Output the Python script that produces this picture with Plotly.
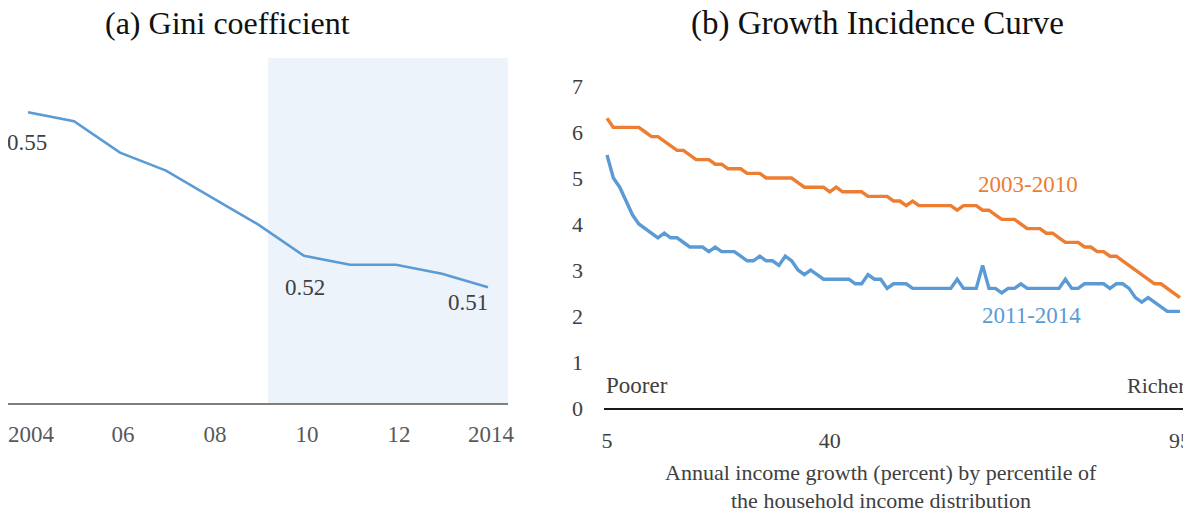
import plotly.graph_objects as go

# ---------------- data ----------------
years = list(range(2004, 2015))
gini = [0.553, 0.551, 0.544, 0.540, 0.534, 0.528, 0.521, 0.519, 0.519, 0.517, 0.514]
gini_labeled_years = [2004, 2010, 2014]
year_ticks = [2004, 2006, 2008, 2010, 2012, 2014]
year_ticktext = ["2004", "06", "08", "10", "12", "2014"]
shade_start_year = 2009.22

percentiles = list(range(5, 96))
gic_2003_2010 = [
    6.3, 6.1, 6.1, 6.1, 6.1, 6.1, 6.0, 5.9, 5.9, 5.8,
    5.7, 5.6, 5.6, 5.5, 5.4, 5.4, 5.4, 5.3, 5.3, 5.2,
    5.2, 5.2, 5.1, 5.1, 5.1, 5.0, 5.0, 5.0, 5.0, 5.0,
    4.9, 4.8, 4.8, 4.8, 4.8, 4.7, 4.8, 4.7, 4.7, 4.7,
    4.7, 4.6, 4.6, 4.6, 4.6, 4.5, 4.5, 4.4, 4.5, 4.4,
    4.4, 4.4, 4.4, 4.4, 4.4, 4.3, 4.4, 4.4, 4.4, 4.3,
    4.3, 4.2, 4.1, 4.1, 4.1, 4.0, 3.9, 3.9, 3.9, 3.8,
    3.8, 3.7, 3.6, 3.6, 3.6, 3.5, 3.5, 3.4, 3.4, 3.3,
    3.3, 3.2, 3.1, 3.0, 2.9, 2.8, 2.7, 2.7, 2.6, 2.5,
    2.4,
]
gic_2011_2014 = [
    5.5, 5.0, 4.8, 4.5, 4.2, 4.0, 3.9, 3.8, 3.7, 3.8,
    3.7, 3.7, 3.6, 3.5, 3.5, 3.5, 3.4, 3.5, 3.4, 3.4,
    3.4, 3.3, 3.2, 3.2, 3.3, 3.2, 3.2, 3.1, 3.3, 3.2,
    3.0, 2.9, 3.0, 2.9, 2.8, 2.8, 2.8, 2.8, 2.8, 2.7,
    2.7, 2.9, 2.8, 2.8, 2.6, 2.7, 2.7, 2.7, 2.6, 2.6,
    2.6, 2.6, 2.6, 2.6, 2.6, 2.8, 2.6, 2.6, 2.6, 3.1,
    2.6, 2.6, 2.5, 2.6, 2.6, 2.7, 2.6, 2.6, 2.6, 2.6,
    2.6, 2.6, 2.8, 2.6, 2.6, 2.7, 2.7, 2.7, 2.7, 2.6,
    2.7, 2.7, 2.6, 2.4, 2.3, 2.4, 2.3, 2.2, 2.1, 2.1,
    2.1,
]
pct_ticks = [5, 40, 95]
gic_yticks = [0, 1, 2, 3, 4, 5, 6, 7]
series_names = ["2003-2010", "2011-2014"]

# ---------------- styles ----------------
OFF = 8                      # page body margin of the browser
W, H = 1191 - OFF, 513 - OFF
FONT = "Liberation Serif"
BLUE = "#5B9BD5"
ORANGE = "#ED7D31"
SHADE = "#EDF3FA"
GRAY_TXT = "#595959"
DARK_TXT = "#404040"

def px_x(p):
    return max(0.0, (p - OFF) / W)

def px_y(p):
    return 1 - (p - OFF) / H

fig = go.Figure()

# ---- panel (a) ----
fig.add_trace(go.Scatter(
    x=years, y=gini, mode="lines",
    line=dict(color=BLUE, width=2.6),
    xaxis="x", yaxis="y", showlegend=False, hoverinfo="skip",
))

# ---- panel (b) ----
fig.add_trace(go.Scatter(
    x=percentiles, y=gic_2003_2010, mode="lines",
    line=dict(color=ORANGE, width=3.4),
    xaxis="x2", yaxis="y2", showlegend=False, name=series_names[0],
))
fig.add_trace(go.Scatter(
    x=percentiles, y=gic_2011_2014, mode="lines",
    line=dict(color=BLUE, width=3.4),
    xaxis="x2", yaxis="y2", showlegend=False, name=series_names[1],
))

# shaded period in panel (a)
fig.add_shape(
    type="rect", xref="x", yref="y domain",
    x0=shade_start_year, x1=2014.43, y0=0, y1=1,
    fillcolor=SHADE, line=dict(width=0), layer="below",
)

annotations = []
# value labels on gini line
label_shift = {2004: (-1, -30), 2010: (1, -32), 2014: (-20, -15)}
for yr in gini_labeled_years:
    v = gini[years.index(yr)]
    dx, dy = label_shift[yr]
    annotations.append(dict(
        x=yr, y=v, xref="x", yref="y", text=f"{v:.2f}", showarrow=False,
        xanchor="center", yanchor="middle",
        xshift=dx, yshift=dy, font=dict(family=FONT, size=23, color=DARK_TXT),
    ))

# series labels
annotations.append(dict(x=71.1, y=4.85, xref="x2", yref="y2", text=series_names[0],
                        xanchor="center", yanchor="middle",
                        showarrow=False, font=dict(family=FONT, size=23, color=ORANGE)))
annotations.append(dict(x=71.7, y=2.02, xref="x2", yref="y2", text=series_names[1],
                        xanchor="center", yanchor="middle",
                        showarrow=False, font=dict(family=FONT, size=23, color=BLUE)))
# Poorer / Richer
annotations.append(dict(x=0, y=0.18, xref="x2 domain", yref="y2", text="Poorer",
                        xanchor="left", yanchor="bottom", showarrow=False,
                        font=dict(family=FONT, size=23, color=DARK_TXT)))
annotations.append(dict(x=1, y=0.18, xref="x2 domain", yref="y2", text="Richer",
                        xanchor="right", yanchor="bottom", showarrow=False,
                        font=dict(family=FONT, size=22, color=DARK_TXT)))
# x title panel (b)
annotations.append(dict(x=px_x(881), y=px_y(472), xref="paper", yref="paper",
                        xanchor="center", yanchor="middle",
                        text="Annual income growth (percent) by percentile of",
                        showarrow=False, font=dict(family=FONT, size=22, color=DARK_TXT)))
annotations.append(dict(x=px_x(881), y=px_y(500), xref="paper", yref="paper",
                        xanchor="center", yanchor="middle",
                        text="the household income distribution",
                        showarrow=False, font=dict(family=FONT, size=22, color=DARK_TXT)))
# panel titles
annotations.append(dict(x=px_x(228), y=px_y(23), xref="paper", yref="paper",
                        xanchor="center", yanchor="middle",
                        text="(a) Gini coefficient", showarrow=False,
                        font=dict(family=FONT, size=32, color="#111111")))
annotations.append(dict(x=px_x(877), y=px_y(23), xref="paper", yref="paper",
                        xanchor="center", yanchor="middle",
                        text="(b) Growth Incidence Curve", showarrow=False,
                        font=dict(family=FONT, size=33, color="#111111")))

# left x-axis: screen px 8 (page edge) .. 508, with 2004 at 28 and 46 px/year
left_x0 = 2004 + (OFF - 28) / 46
left_x1 = 2004 + (508 - 28) / 46

fig.update_layout(
    template="none",
    width=W, height=H,
    margin=dict(l=0, r=0, t=0, b=0, pad=0, autoexpand=False),
    paper_bgcolor="white", plot_bgcolor="white",
    annotations=annotations,
    xaxis=dict(
        domain=[px_x(OFF), px_x(508)], range=[left_x0, left_x1],
        tickvals=year_ticks, ticktext=year_ticktext, automargin=False,
        ticklabeloverflow="allow", ticklabelshift=3,
        showgrid=False, zeroline=False, showline=True, linecolor="#7F7F7F", linewidth=1.6,
        ticks="", ticklabelstandoff=10,
        tickfont=dict(family=FONT, size=23, color=GRAY_TXT),
    ),
    yaxis=dict(
        domain=[px_y(403), px_y(58)], range=[0.4882, 0.5651], automargin=False,
        visible=False, showgrid=False, zeroline=False,
    ),
    xaxis2=dict(
        domain=[px_x(604), px_x(1188)], range=[4.53, 96.26], automargin=False,
        ticklabeloverflow="allow",
        tickvals=pct_ticks, showgrid=False, zeroline=False,
        showline=True, linecolor="#1a1a1a", linewidth=1.6,
        ticks="", ticklabelstandoff=12,
        tickfont=dict(family=FONT, size=22, color=DARK_TXT),
        anchor="y2",
    ),
    yaxis2=dict(
        domain=[px_y(408), px_y(86)], range=[0, 7], automargin=False,
        tickvals=gic_yticks, showgrid=False, zeroline=False, showline=False,
        ticks="", ticklabelstandoff=20,
        tickfont=dict(family=FONT, size=22, color=DARK_TXT),
        anchor="x2",
    ),
)

fig.write_html("out.html")
